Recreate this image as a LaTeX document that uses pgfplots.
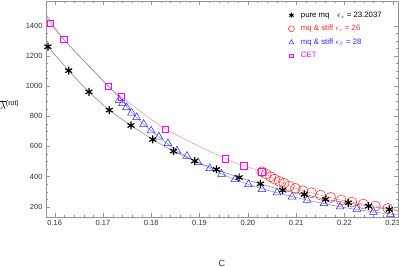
\documentclass[border=0pt]{standalone}
\usepackage{fontspec}
\setmainfont{Liberation Sans}
\usepackage{pgfplots}
\pgfplotsset{compat=1.18}
\definecolor{mred}{RGB}{255,40,40}
\definecolor{mblue}{RGB}{40,40,255}
\definecolor{mmag}{RGB}{255,0,255}
\definecolor{lred}{RGB}{255,140,140}
\definecolor{lblue}{RGB}{130,130,255}
\definecolor{fr}{RGB}{150,150,150}
\begin{document}
\begin{tikzpicture}
\begin{axis}[
 width=352pt,height=216pt,scale only axis,
 xmin=0.1582,xmax=0.2311,ymin=132,ymax=1564,
 xtick={0.16,0.17,0.18,0.19,0.20,0.21,0.22,0.23},
 ytick={200,400,600,800,1000,1200,1400},
 minor x tick num=4, minor y tick num=3,
 tick align=inside, major tick length=4pt, minor tick length=2pt,
 axis line style={fr}, tick style={fr},
 /pgf/number format/assume math mode=true,
 xticklabel style={/pgf/number format/.cd,fixed,fixed zerofill,precision=2},
 yticklabel style={/pgf/number format/1000 sep={}},
 tick label style={font=\fontsize{7.5}{9}\selectfont, text=black!80},
 xlabel={C},
 xlabel style={at={(axis description cs:0.5,-0.213)},anchor=center,font=\fontsize{9}{10}\selectfont,text=black!80},
 ylabel={$\overline{\lambda}$\textsuperscript{(rot)}},
 ylabel style={rotate=-90, at={(axis description cs:-0.103,0.52)}, anchor=center,font=\fontsize{10}{12}\selectfont},
 legend style={draw=none,fill=none,at={(0.672,0.965)},anchor=north west,font=\fontsize{7.8}{9}\selectfont,row sep=4.5pt, nodes={inner sep=1pt}},
 legend cell align=left,
 legend image code/.code={\path[draw=none,fill=none] (0cm,0cm) -- (0.5cm,0cm); \draw[#1] plot coordinates {(0.2cm,0cm)};},
]
\addlegendimage{only marks, mark=asterisk, mark size=2.5pt, line width=1pt, black}
\addlegendimage{only marks, mark=o, mark size=3pt, mred, line width=0.5pt}
\addlegendimage{only marks, mark=triangle, mark size=2.7pt, mblue, line width=0.5pt}
\addlegendimage{only marks, mark=square, mark size=1.8pt, mmag, line width=0.6pt}
\legend{pure mq\quad $\epsilon_s$ = 23.2037, \textcolor{mred}{mq \& stiff $\epsilon_s$ = 26}, \textcolor{mblue}{mq \& stiff $\epsilon_S$ = 28}, \textcolor{mmag}{CET}}

% lines
\addplot[forget plot, smooth, gray, line width=0.5pt] coordinates {
(0.1582,1280) (0.1586,1261) (0.1629,1102) (0.1671,962) (0.1713,841) (0.1758,739) (0.1803,646) (0.1846,569) (0.1890,503) (0.1935,447) (0.1982,394) (0.2026,352) (0.2072,310) (0.2117,282) (0.2161,249) (0.2208,226) (0.2250,204) (0.2293,182) (0.2311,175)};
\addplot[forget plot, smooth, lred, line width=0.5pt] coordinates {
(0.1582,1478) (0.1591,1415) (0.1619,1309) (0.1711,1000) (0.1738,929) (0.1830,715) (0.1954,518) (0.1992,472) (0.2029,432) (0.2047,399) (0.2065,368) (0.2086,337) (0.2114,306) (0.2151,277) (0.2193,244) (0.2239,218) (0.2290,189) (0.2316,173)};
\addplot[forget plot, smooth, lblue, line width=0.5pt] coordinates {
(0.1582,1478) (0.1619,1309) (0.1711,1000) (0.1741,900) (0.1760,823) (0.1784,748) (0.1816,664) (0.1853,571) (0.1897,494) (0.1946,417) (0.2001,348) (0.2060,293) (0.2123,244) (0.2191,200) (0.2260,165) (0.2296,151) (0.2311,146)};

% triangles
\addplot[forget plot, only marks, mark=triangle, mark size=4.5pt, mblue, line width=0.5pt] coordinates {
(0.17335,907) (0.17405,885) (0.17488,859) (0.17592,823) (0.17697,792) (0.17843,748) (0.17996,704) (0.18156,664) (0.18344,620) (0.18531,571) (0.18740,536) (0.18969,494) (0.19213,454) (0.19456,417) (0.19734,381) (0.20013,348) (0.20291,315) (0.20604,293) (0.20917,266) (0.21230,244) (0.21577,222) (0.21911,200) (0.22259,185) (0.22600,165) (0.22955,151)};
% circles
\addplot[forget plot, only marks, mark=o, mark size=5pt, mred, line width=0.5pt] coordinates {
(0.20291,432) (0.20381,417) (0.20471,399) (0.20555,383) (0.20652,368) (0.20750,355) (0.20861,337) (0.20986,322) (0.21139,306) (0.21320,293) (0.21508,277) (0.21716,262) (0.21932,244) (0.22154,231) (0.22391,218) (0.22641,204) (0.22898,189) (0.23156,173)};
% squares
\addplot[forget plot, only marks, mark=square, mark size=3.2pt, mmag, line width=0.7pt] coordinates {
(0.15910,1415) (0.16188,1309) (0.17106,1000) (0.17384,929) (0.18295,715) (0.19540,518) (0.19915,472) (0.20291,432)};
% stars
\addplot[forget plot, only marks, mark=asterisk, mark size=4pt, line width=1.2pt, black] coordinates {
(0.1586,1261) (0.1629,1102) (0.1671,962) (0.1713,841) (0.1758,739) (0.1803,646) (0.1846,569) (0.1890,503) (0.1935,447) (0.1982,394) (0.2026,352) (0.2072,310) (0.2117,282) (0.2161,249) (0.2208,226) (0.2250,204) (0.2293,182)};
\coordinate (bl) at (rel axis cs:0,0);
\coordinate (tr) at (rel axis cs:1,1);
\end{axis}
\pgfresetboundingbox
\useasboundingbox ([xshift=-46pt,yshift=-50pt]bl) rectangle ([xshift=1pt,yshift=1pt]tr);
\end{tikzpicture}
\end{document}
